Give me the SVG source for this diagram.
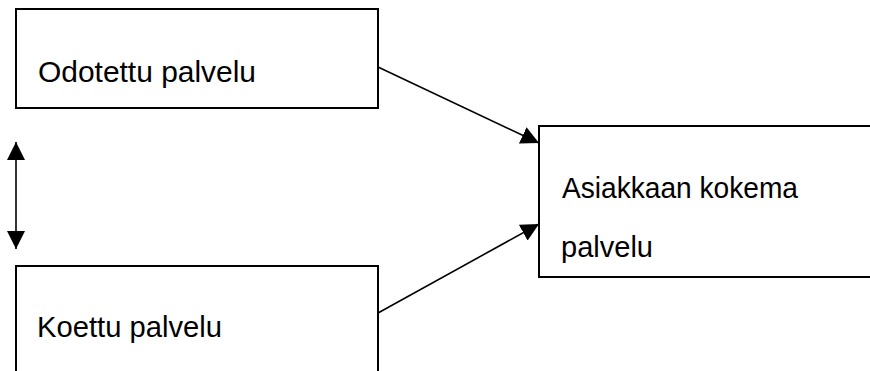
<svg xmlns="http://www.w3.org/2000/svg" width="870" height="371" viewBox="0 0 870 371">
<style>
.box{fill:#fff;stroke:#000;stroke-width:2}
.lbl{font-family:"Liberation Sans",Arial,sans-serif;font-size:30px;fill:#000}
.con{stroke:#000;stroke-width:1.6;fill:none}
</style>
<defs>
<marker id="ah" markerUnits="userSpaceOnUse" markerWidth="18" markerHeight="18" refX="16" refY="8" orient="auto-start-reverse" viewBox="0 0 16 16">
<path d="M0,0 L16,8 L0,16 Z" fill="#000"/>
</marker>
</defs>
<rect width="870" height="371" fill="#fff"/>
<g id="odotettu">
<rect class="box" x="16" y="9" width="362" height="99"/>
<text class="lbl" x="38" y="82" textLength="218" lengthAdjust="spacingAndGlyphs">Odotettu palvelu</text>
</g>
<g id="koettu">
<rect class="box" x="16" y="266" width="362" height="120"/>
<text class="lbl" x="37" y="337" textLength="185" lengthAdjust="spacingAndGlyphs">Koettu palvelu</text>
</g>
<g id="asiakkaan">
<rect class="box" x="539" y="126" width="340" height="151"/>
<text class="lbl" x="562" y="198" textLength="236" lengthAdjust="spacingAndGlyphs">Asiakkaan kokema</text>
<text class="lbl" x="561" y="257" textLength="92" lengthAdjust="spacingAndGlyphs">palvelu</text>
</g>
<g id="connectors">
<line class="con" x1="378" y1="67" x2="539" y2="143" marker-end="url(#ah)"/>
<line class="con" x1="378" y1="313" x2="539" y2="224" marker-end="url(#ah)"/>
<line class="con" x1="16" y1="142" x2="16" y2="249" marker-start="url(#ah)" marker-end="url(#ah)"/>
</g>
</svg>
